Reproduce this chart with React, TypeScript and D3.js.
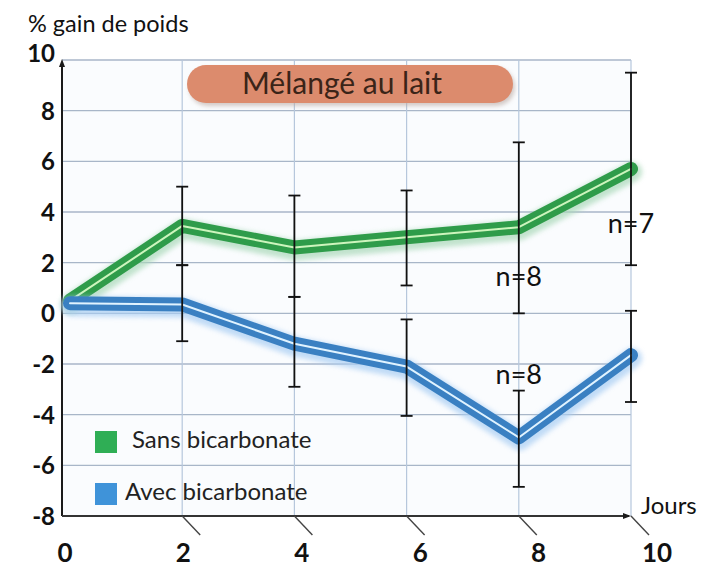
import React from "react";
import * as d3 from "d3";

const days = [0, 2, 4, 6, 8, 10];
const sansBicarbonate = [0.5, 3.45, 2.6, 3.0, 3.4, 5.7];
const avecBicarbonate = [0.4, 0.35, -1.2, -2.1, -4.9, -1.65];

const errDays = [2, 4, 6, 8, 10];
const sansLow = [1.9, 0.65, 1.1, 0.0, 1.9];
const sansHigh = [5.0, 4.65, 4.85, 6.75, 9.5];
const avecLow = [-1.1, -2.9, -4.05, -6.85, -3.5];
const avecHigh = [1.9, 0.65, -0.24, -3.05, 0.1];

const yTicks = [10, 8, 6, 4, 2, 0, -2, -4, -6, -8];
const xTicks = [0, 2, 4, 6, 8, 10];

const nLabelText = ["n=7", "n=8", "n=8"];
const nLabelDay = [10, 8, 8];
const nLabelValue = [3.45, 1.35, -2.5];

const legendLabels = ["Sans bicarbonate", "Avec bicarbonate"];

const W = 701;
const H = 567;
const FONT = "Lato, 'Open Sans', sans-serif";

const GREEN = "#2f9c4a";
const BLUE = "#3a80c2";

export default function App() {
  const x = d3.scaleLinear().domain([0, 10]).range([70, 631]);
  const xLabel = d3.scaleLinear().domain([0, 10]).range([65, 657]);
  const y = d3.scaleLinear().domain([-8, 10]).range([516, 60]);
  const axisX = 62;
  const right = x(10);

  const line = d3
    .line<number>()
    .x((_, i) => x(days[i]))
    .y((d) => y(d));

  const series = [
    { values: sansBicarbonate, color: GREEN, hi: "#cdf5bd", glow: "#a9d8b8" },
    { values: avecBicarbonate, color: BLUE, hi: "#e0f3ff", glow: "#a8cdf3" },
  ];

  return (
    <svg
      width={W}
      height={H}
      style={{ position: "absolute", left: 0, top: 0, background: "#ffffff" }}
      fontFamily={FONT}
    >
      <defs>
        <filter id="blur" x="-10%" y="-10%" width="120%" height="120%">
          <feGaussianBlur stdDeviation="2.5" />
        </filter>
        <filter id="shadow" x="-10%" y="-30%" width="120%" height="160%">
          <feGaussianBlur stdDeviation="2" />
        </filter>
      </defs>

      {/* plot background */}
      <rect x={axisX} y={y(10)} width={right - axisX} height={y(-8) - y(10)} fill="#fafcfe" />

      {/* horizontal grid */}
      {yTicks
        .filter((t) => t !== -8)
        .map((t) => (
          <line key={"h" + t} x1={axisX} x2={right} y1={y(t)} y2={y(t)} stroke="#a8b6c8" strokeWidth={1.4} />
        ))}
      {/* vertical grid */}
      {xTicks
        .filter((t) => t !== 0)
        .map((t) => (
          <line key={"v" + t} x1={x(t)} x2={x(t)} y1={y(10)} y2={y(-8)} stroke="#b6c7dc" strokeWidth={1.2} />
        ))}

      {/* y axis title */}
      <text x={28} y={32} fontSize={23.5} fill="#111">
        % gain de poids
      </text>

      {/* title box */}
      <rect x={189} y={68} width={326} height={38} rx={19} fill="#b9a7a0" opacity={0.6} filter="url(#shadow)" />
      <rect x={187} y={65} width={326} height={38} rx={19} fill="#dc8b6d" />
      <text x={342} y={94} textAnchor="middle" fontSize={30} fill="#3a2418">
        Mélangé au lait
      </text>

      {/* axes */}
      <line x1={axisX} x2={axisX} y1={y(-8)} y2={y(10) + 2} stroke="#1a1a1a" strokeWidth={2} />
      <path d={`M${axisX - 3},${y(10) + 7} L${axisX},${y(10) - 1} L${axisX + 3},${y(10) + 7} Z`} fill="#1a1a1a" />
      <line x1={axisX} x2={right - 2} y1={y(-8)} y2={y(-8)} stroke="#333" strokeWidth={2.2} />
      <path d={`M${right - 8},${y(-8) - 3} L${right},${y(-8)} L${right - 8},${y(-8) + 3} Z`} fill="#1a1a1a" />

      {/* y tick labels */}
      {yTicks.map((t) => (
        <text
          key={"yl" + t}
          x={55}
          y={y(t) + (t === 10 ? -4 : 3)}
          textAnchor="end"
          dominantBaseline="middle"
          fontSize={24}
          fontWeight={700}
          fill="#111"
        >
          {t}
        </text>
      ))}

      {/* x tick slants & labels */}
      {xTicks
        .filter((t) => t !== 0)
        .map((t) => (
          <line
            key={"s" + t}
            x1={x(t)}
            y1={y(-8)}
            x2={x(t) + 18}
            y2={y(-8) + 19}
            stroke="#444"
            strokeWidth={1.4}
          />
        ))}
      {xTicks.map((t) => (
        <text key={"xl" + t} x={xLabel(t)} y={562} textAnchor="middle" fontSize={26} fontWeight={700} fill="#111">
          {t}
        </text>
      ))}
      <text x={641} y={514} fontSize={24} fill="#111">
        Jours
      </text>

      {/* series lines */}
      {series.map((s, i) => (
        <g key={"s" + i}>
          <path
            d={line(s.values) || ""}
            fill="none"
            stroke={s.glow}
            strokeWidth={20}
            strokeLinejoin="round"
            strokeLinecap="round"
            opacity={0.7}
            transform="translate(1,3)"
            filter="url(#blur)"
          />
          <path
            d={line(s.values) || ""}
            fill="none"
            stroke={s.color}
            strokeWidth={14}
            strokeLinejoin="round"
            strokeLinecap="round"
          />
          <path
            d={line(s.values) || ""}
            fill="none"
            stroke={s.hi}
            strokeWidth={2}
            strokeLinejoin="round"
            strokeLinecap="round"
          />
        </g>
      ))}

      {/* error bars */}
      {errDays.map((d, i) => (
        <g key={"e" + i} stroke="#111" strokeWidth={1.8}>
          <line x1={x(d)} x2={x(d)} y1={y(sansHigh[i])} y2={y(sansLow[i])} />
          <line x1={x(d) - 6} x2={x(d) + 6} y1={y(sansHigh[i])} y2={y(sansHigh[i])} />
          <line x1={x(d) - 6} x2={x(d) + 6} y1={y(sansLow[i])} y2={y(sansLow[i])} />
          <line x1={x(d)} x2={x(d)} y1={y(avecHigh[i])} y2={y(avecLow[i])} />
          <line x1={x(d) - 6} x2={x(d) + 6} y1={y(avecHigh[i])} y2={y(avecHigh[i])} />
          <line x1={x(d) - 6} x2={x(d) + 6} y1={y(avecLow[i])} y2={y(avecLow[i])} />
        </g>
      ))}

      {/* n labels */}
      {nLabelText.map((t, i) => (
        <text
          key={"n" + i}
          x={x(nLabelDay[i])}
          y={y(nLabelValue[i])}
          textAnchor="middle"
          dominantBaseline="middle"
          fontSize={27}
          fill="#111"
        >
          {t}
        </text>
      ))}

      {/* legend */}
      {legendLabels.map((l, i) => (
        <g key={"lg" + i}>
          <rect x={95} y={431 + i * 52} width={22} height={22} fill={i === 0 ? "#2fae55" : "#3f93d9"} />
          <text x={i === 0 ? 132 : 125} y={442 + i * 52} dominantBaseline="middle" fontSize={24} fill="#222">
            {l}
          </text>
        </g>
      ))}
    </svg>
  );
}
